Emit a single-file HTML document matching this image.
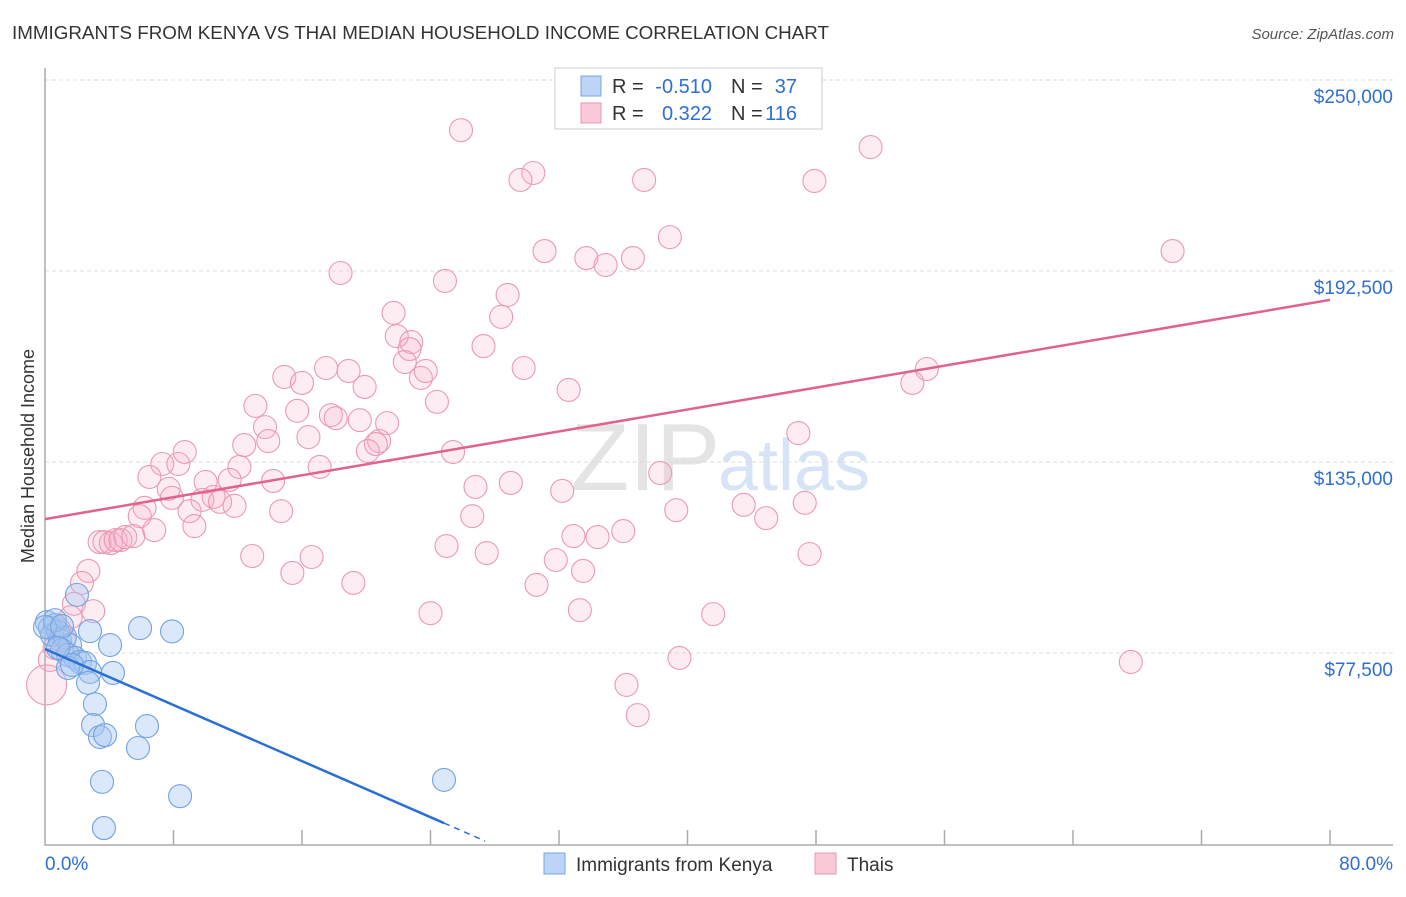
<!DOCTYPE html>
<html><head><meta charset="utf-8"><style>
body{margin:0;background:#fff;font-family:"Liberation Sans",sans-serif}
svg text{font-family:"Liberation Sans",sans-serif}
</style></head><body>
<svg id="c" width="1406" height="892">
<text x="12" y="39" font-size="18" fill="#333" textLength="817" lengthAdjust="spacingAndGlyphs">IMMIGRANTS FROM KENYA VS THAI MEDIAN HOUSEHOLD INCOME CORRELATION CHART</text>
<text x="1394" y="39" font-size="15" fill="#555" font-style="italic" text-anchor="end">Source: ZipAtlas.com</text>
<text x="720" y="490" font-size="96" fill="#e4e4e4" text-anchor="end" font-family="Liberation Serif">ZIP</text>
<text x="718" y="490" font-size="72" fill="#d6e4f5">atlas</text>
<g id="grid"></g><g id="pts"></g><g id="lines"></g>
<text transform="translate(34,456) rotate(-90)" font-size="18" fill="#333" text-anchor="middle">Median Household Income</text>
<g>
<rect x="555" y="68" width="267" height="61" fill="#fff" stroke="#ccc"/>
<rect x="581" y="76" width="20" height="20" fill="#bcd4f5" stroke="#7aa6e6"/>
<rect x="581" y="103" width="20" height="20" fill="#f9c9d8" stroke="#ea95b2"/>
<text x="612" y="93" font-size="20" fill="#333">R =</text>
<text x="712" y="93" font-size="20" fill="#2e6fd1" text-anchor="end">-0.510</text>
<text x="731" y="93" font-size="20" fill="#333">N =</text>
<text x="797" y="93" font-size="20" fill="#2e6fd1" text-anchor="end">37</text>
<text x="612" y="120" font-size="20" fill="#333">R =</text>
<text x="712" y="120" font-size="20" fill="#2e6fd1" text-anchor="end">0.322</text>
<text x="731" y="120" font-size="20" fill="#333">N =</text>
<text x="797" y="120" font-size="20" fill="#2e6fd1" text-anchor="end">116</text>
</g>
<g>
<rect x="544" y="853" width="21" height="21" fill="#bcd4f5" stroke="#7aa6e6"/>
<text x="576" y="871" font-size="19" fill="#333">Immigrants from Kenya</text>
<rect x="815" y="853" width="21" height="21" fill="#f9c9d8" stroke="#ea95b2"/>
<text x="847" y="871" font-size="19" fill="#333">Thais</text>
</g>
</svg>
<script>
const yTicks=[250000,192500,135000,77500];
const yTickLabels=["$250,000","$192,500","$135,000","$77,500"];
const xTickLabels=["0.0%","80.0%"];
const kenyaX=[0.12,0.31,0.62,0.81,0.44,0.93,1.25,1.56,1.06,1.43,1.87,2.18,2.49,2.80,1.43,1.99,2.80,4.05,4.23,5.92,7.91,2.68,3.11,2.99,3.42,3.74,5.79,6.35,3.55,8.41,3.67,24.84,0.62,0,1.06,1.68,0.81];
const kenyaY=[86.8,85.1,85.9,83.8,82.9,81.4,82.3,79.9,78.4,76.9,76.0,74.8,74.5,71.8,73.0,95.0,84.1,79.9,71.5,85.0,84.0,68.5,62.1,55.8,52.2,52.8,48.9,55.5,38.7,34.4,24.8,39.3,87.4,85.3,85.6,73.9,79.0];
const thaiX=[25.9,30.4,29.6,37.3,47.9,51.4,70.2,31.1,33.7,34.9,36.6,38.9,18.4,24.9,28.8,28.4,21.7,27.3,21.9,22.8,22.7,22.4,23.4,23.7,29.8,32.6,24.4,17.5,18.9,14.9,16.0,19.9,13.1,15.7,17.8,18.1,19.6,21.3,20.8,20.6,20.1,25.4,13.7,13.9,12.4,16.4,8.7,7.3,8.3,12.1,17.1,6.5,10.0,14.2,11.5,7.7,7.9,9.8,10.5,10.9,11.8,6.2,9.0,5.9,9.3,14.7,26.8,29.0,32.2,38.3,26.6,39.3,43.5,44.9,47.3,46.9,54.0,54.9,6.8,3.4,3.7,4.1,4.4,4.7,5.0,5.5,12.9,16.6,25.0,27.5,32.9,34.4,36.0,31.8,33.5,47.6,15.4,19.2,30.6,2.7,2.3,1.8,3.0,24.0,33.3,41.6,39.5,67.6,36.2,36.9,1.6,0.6,0.3,0.1,0.9,1.2];
const thaiY=[234.9,222.0,219.9,219.9,219.6,229.8,198.5,198.5,196.4,194.3,196.4,202.7,191.9,189.5,185.3,178.7,179.9,169.9,172.9,171.1,169.0,165.1,160.3,162.4,163.3,156.7,153.1,163.3,162.4,160.6,158.8,157.6,151.9,150.4,149.1,148.2,147.6,146.7,141.3,140.4,138.3,138.0,145.5,141.3,140.1,142.5,138.0,134.4,134.4,133.5,133.5,130.5,129.0,129.3,129.6,126.9,124.2,123.6,124.5,123.0,121.8,121.2,120.2,118.7,115.7,120.2,127.5,128.7,126.3,131.7,118.7,120.5,122.1,118.1,122.7,143.7,158.8,163.0,114.5,110.9,110.9,110.6,111.5,111.5,112.4,112.7,106.7,106.4,109.7,107.6,112.7,112.4,114.2,105.5,102.2,107.3,101.6,98.6,98.0,102.2,98.6,92.3,90.1,89.5,90.4,89.2,76.0,74.8,67.9,58.8,88.3,79.0,75.4,67.9,84.4,81.4];
const kenyaTrend=[[0,78.7],[24.84,26.3]];
const kenyaTrendDash=[[24.84,26.3],[27.4,20.9]];
const thaiTrend=[[0,117.8],[80,183.8]];
const NS="http://www.w3.org/2000/svg";
const X=p=>45+p*16.0625;
const Y=v=>80+(250000-v)/57500*191;
function mk(tag,attrs,parent){const e=document.createElementNS(NS,tag);for(const k in attrs)e.setAttribute(k,attrs[k]);parent.appendChild(e);return e;}
const grid=document.getElementById('grid');
yTicks.forEach((t,i)=>{
 const l=mk('line',{x1:45,x2:1393,y1:Y(t),y2:Y(t),stroke:'#ddd','stroke-dasharray':'4,3'},grid);
 
 
 const tx=mk('text',{x:1393,y:Y(t)+23,'font-size':19,fill:'#2e6fd1','text-anchor':'end'},grid);
 tx.textContent=yTickLabels[i];
 
 
});
const ax=mk('path',{d:'M45 68V845H1393',fill:'none',stroke:'#aaa','stroke-width':1.5},grid);


for(let i=1;i<=10;i++){
 const tk=mk('line',{x1:X(i*8),x2:X(i*8),y1:830,y2:845,stroke:'#aaa','stroke-width':1.5},grid);
 
 
}
const xl0=mk('text',{x:45,y:870,'font-size':19,fill:'#2e6fd1'},grid);xl0.textContent=xTickLabels[0];


const xl1=mk('text',{x:1393,y:870,'font-size':19,fill:'#2e6fd1','text-anchor':'end'},grid);xl1.textContent=xTickLabels[1];


const pts=document.getElementById('pts');
thaiX.forEach((x,i)=>{
 const c=mk('circle',{cx:X(x),cy:Y(thaiY[i]*1000),r:(x<0.2?20:11.5),fill:'rgba(246,175,200,0.22)',stroke:'#ec98b5','stroke-width':1.1},pts);
 
 
});
kenyaX.forEach((x,i)=>{
 const c=mk('circle',{cx:X(x),cy:Y(kenyaY[i]*1000),r:11.5,fill:'rgba(165,198,240,0.4)',stroke:'#73a2e2','stroke-width':1.1},pts);
 
 
});
const lines=document.getElementById('lines');
function ln(seg,col,dash){const e=mk('line',{x1:X(seg[0][0]),y1:Y(seg[0][1]*1000),x2:X(seg[1][0]),y2:Y(seg[1][1]*1000),stroke:col,'stroke-width':2.5},lines);if(dash){e.setAttribute('stroke-dasharray','6,5');e.setAttribute('stroke-width','1.5');}return e;}
const l1=ln(thaiTrend,'#e0628f',false);


const l2=ln(kenyaTrend,'#2a6fd6',false);


const l3=ln(kenyaTrendDash,'#2a6fd6',true);


</script>
</body></html>
